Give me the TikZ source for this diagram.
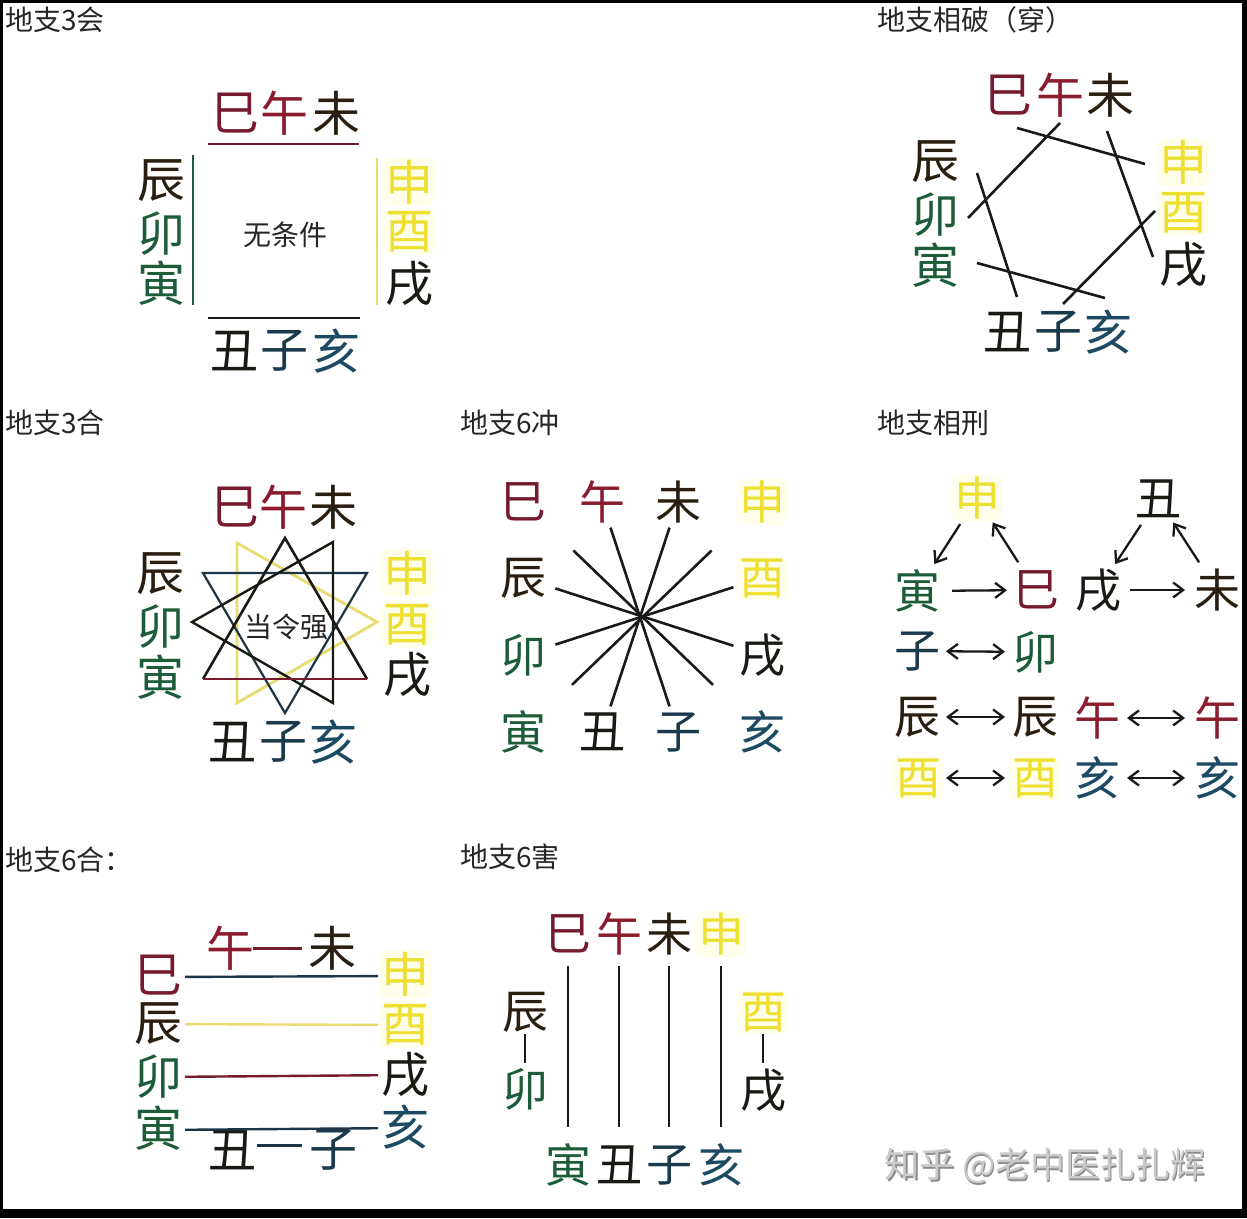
\documentclass[tikz,border=0pt]{standalone}
\usepackage{fontspec}
\newfontfamily\cjk{Noto Sans CJK SC}
\usetikzlibrary{arrows.meta}
\definecolor{cRed}{HTML}{761A2E}
\definecolor{cWu}{HTML}{8A1C2E}
\definecolor{cBrown}{HTML}{2A1E10}
\definecolor{cYel}{HTML}{EEE030}
\definecolor{cGreen}{HTML}{1D5C38}
\definecolor{cTeal}{HTML}{1C4A62}
\definecolor{cZi}{HTML}{1A3A4C}
\definecolor{cBlk}{HTML}{1A1A14}
\definecolor{cNavy}{HTML}{1E3444}
\definecolor{cLineY}{HTML}{E8DC70}
\definecolor{wm}{HTML}{CACACA}
\definecolor{wmS}{HTML}{8E8E8E}
\tikzset{
  ch/.style={inner sep=0pt, font=\cjk\fontsize{48}{48}\selectfont},
  chs/.style={inner sep=0pt, font=\cjk\fontsize{46}{46}\selectfont},
  mid/.style={inner sep=0pt, font=\cjk\fontsize{28}{28}\selectfont, text=black!85},
  ttl/.style={anchor=west, inner sep=0pt, font=\cjk\fontsize{28}{28}\selectfont, text=black!85},
  glow/.style={fill=yellow!8, rounded corners=8pt, inner sep=2pt},
  bSi/.style={text=cRed}, bWu/.style={text=cWu}, bWei/.style={text=cBrown},
  bShen/.style={text=cYel, glow}, bYou/.style={text=cYel, glow}, bXu/.style={text=cBlk},
  bHai/.style={text=cTeal}, bZi/.style={text=cZi}, bChou/.style={text=cBlk},
  bChen/.style={text=cBrown}, bMao/.style={text=cGreen}, bYin/.style={text=cGreen},
  ln/.style={line width=2.6pt, draw=black!90},
  arr/.style={line width=2.3pt, draw=black!90, -{Straight Barb[length=10pt,width=15pt,line width=2.3pt]}},
  darr/.style={line width=2.3pt, draw=black!90, {Straight Barb[length=10pt,width=15pt,line width=2.3pt]}-{Straight Barb[length=10pt,width=15pt,line width=2.3pt]}},
}
\begin{document}
\begin{tikzpicture}[x=1pt,y=-1pt]
\useasboundingbox (0,0) rectangle (1247,1218);
\fill[black] (0,0) rectangle (1247,1218);
\fill[white] (3,3) rectangle (1242,1209);

% ---------- 地支3会 ----------
\node[ttl] (t1) at (5,20) {地支3会};
\node[ch,bSi] (a1) at (235,113) {巳};
\node[ch,bWu] (a2) at (284,113) {午};
\node[ch,bWei] (a3) at (336,113) {未};
\node[ch,bChen] (a4) at (161,181) {辰};
\node[ch,bMao] (a5) at (161,234) {卯};
\node[ch,bYin] (a6) at (161,283) {寅};
\node[ch,bShen] (a7) at (409,182) {申};
\node[ch,bYou] (a8) at (409,232) {酉};
\node[ch,bXu] (a9) at (409,284) {戌};
\node[ch,bChou] (a10) at (234,351) {丑};
\node[ch,bZi] (a11) at (284,351) {子};
\node[ch,bHai] (a12) at (336,351) {亥};
\node[mid] (a13) at (285,235) {无条件};
\coordinate (aT1) at (208,144); \coordinate (aT2) at (359,144);
\coordinate (aL1) at (193,155); \coordinate (aL2) at (193,305);
\coordinate (aR1) at (377,158); \coordinate (aR2) at (377,305);
\coordinate (aB1) at (208,318); \coordinate (aB2) at (360,318);
\draw[line width=2.4pt, cRed] (aT1) -- (aT2);
\draw[line width=2.4pt, cGreen] (aL1) -- (aL2);
\draw[line width=2.4pt, cLineY] (aR1) -- (aR2);
\draw[line width=2.4pt, cBlk] (aB1) -- (aB2);

% ---------- 地支相破（穿） ----------
\node[ttl] (t2) at (877,20) {地支相破（穿）};
\node[ch,bSi] (b1) at (1008,95) {巳};
\node[ch,bWu] (b2) at (1060,95) {午};
\node[ch,bWei] (b3) at (1110,95) {未};
\node[ch,bChen] (b4) at (935,162) {辰};
\node[ch,bMao] (b5) at (935,215) {卯};
\node[ch,bYin] (b6) at (935,265) {寅};
\node[ch,bShen] (b7) at (1183,162) {申};
\node[ch,bYou] (b8) at (1183,213) {酉};
\node[ch,bXu] (b9) at (1183,265) {戌};
\node[ch,bChou] (b10) at (1007,332) {丑};
\node[ch,bZi] (b11) at (1058,332) {子};
\node[ch,bHai] (b12) at (1108,332) {亥};
\coordinate (p1a) at (1060,123); \coordinate (p1b) at (968,218);
\coordinate (p2a) at (1017,128); \coordinate (p2b) at (1145,164);
\coordinate (p3a) at (1107,131); \coordinate (p3b) at (1153,257);
\coordinate (p4a) at (1155,211); \coordinate (p4b) at (1063,304);
\coordinate (p5a) at (1105,298); \coordinate (p5b) at (977,263);
\coordinate (p6a) at (977,173); \coordinate (p6b) at (1017,297);
\draw[ln] (p1a) -- (p1b);
\draw[ln] (p2a) -- (p2b);
\draw[ln] (p3a) -- (p3b);
\draw[ln] (p4a) -- (p4b);
\draw[ln] (p5a) -- (p5b);
\draw[ln] (p6a) -- (p6b);

% ---------- 地支3合 ----------
\node[ttl] (t3) at (5,423) {地支3合};
\coordinate (y1) at (377,622); \coordinate (y2) at (237,543); \coordinate (y3) at (237,703);
\coordinate (n1) at (203,573); \coordinate (n2) at (367,573); \coordinate (n3) at (285,713);
\coordinate (k1) at (192,622); \coordinate (k2) at (333,542); \coordinate (k3) at (333,703);
\coordinate (u1) at (285,538); \coordinate (u2) at (367,679); \coordinate (u3) at (203,679);
\draw[line width=2.8pt, cLineY, line join=miter] (y1) -- (y2) -- (y3) -- cycle;
\draw[line width=2.2pt, cNavy] (n1) -- (n2) -- (n3) -- cycle;
\draw[line width=2.4pt, cBlk] (k1) -- (k2) -- (k3) -- cycle;
\draw[line width=2.6pt, cBlk] (u3) -- (u1) -- (u2);
\draw[line width=2.6pt, cRed] (u2) -- (u3);
\node[ch,bSi] (c1) at (235,507) {巳};
\node[ch,bWu] (c2) at (283,507) {午};
\node[ch,bWei] (c3) at (333,507) {未};
\node[ch,bChen] (c4) at (160,574) {辰};
\node[ch,bMao] (c5) at (160,627) {卯};
\node[ch,bYin] (c6) at (160,677) {寅};
\node[ch,bShen] (c7) at (407,573) {申};
\node[ch,bYou] (c8) at (407,625) {酉};
\node[ch,bXu] (c9) at (407,675) {戌};
\node[ch,bChou] (c10) at (232,742) {丑};
\node[ch,bZi] (c11) at (283,742) {子};
\node[ch,bHai] (c12) at (333,742) {亥};
\node[mid] (c13) at (286,627) {当令强};

% ---------- 地支6冲 ----------
\node[ttl] (t4) at (460,423) {地支6冲};
\node[chs,bSi] (d1) at (523,502) {巳};
\node[chs,bWu] (d2) at (602,502) {午};
\node[chs,bWei] (d3) at (678,502) {未};
\node[chs,bShen] (d4) at (762,502) {申};
\node[chs,bChen] (d5) at (523,578) {辰};
\node[chs,bYou] (d6) at (762,578) {酉};
\node[chs,bMao] (d7) at (523,655) {卯};
\node[chs,bXu] (d8) at (762,655) {戌};
\node[chs,bYin] (d9) at (523,732) {寅};
\node[chs,bChou] (d10) at (602,732) {丑};
\node[chs,bZi] (d11) at (678,732) {子};
\node[chs,bHai] (d12) at (762,732) {亥};
\draw[ln, shorten <=27pt, shorten >=27pt] (d2.center) -- (d11.center);
\draw[ln, shorten <=27pt, shorten >=27pt] (d3.center) -- (d10.center);
\draw[ln, shorten <=70pt, shorten >=68pt] (d1.center) -- (d12.center);
\draw[ln, shorten <=70pt, shorten >=68pt] (d4.center) -- (d9.center);
\draw[ln, shorten <=34pt, shorten >=30pt] (d5.center) -- (d8.center);
\draw[ln, shorten <=30pt, shorten >=34pt] (d6.center) -- (d7.center);

% ---------- 地支相刑 ----------
\node[ttl] (t5) at (877,423) {地支相刑};
\node[chs,bShen] (e1) at (977,498) {申};
\node[chs,bChou] (e2) at (1158,499) {丑};
\node[chs,bYin] (e3) at (917,591) {寅};
\node[chs,bSi] (e4) at (1036,590) {巳};
\node[chs,bXu] (e5) at (1098,590) {戌};
\node[chs,bWei] (e6) at (1217,590) {未};
\node[chs,bZi] (e7) at (917,651) {子};
\node[chs,bMao] (e8) at (1035,652) {卯};
\node[chs,bChen] (e9) at (917,717) {辰};
\node[chs,bChen] (e10) at (1035,717) {辰};
\node[chs,bWu] (e11) at (1097,718) {午};
\node[chs,bWu] (e12) at (1217,718) {午};
\node[chs,bYou] (e13) at (918,778) {酉};
\node[chs,bYou] (e14) at (1035,778) {酉};
\node[chs,bHai] (e15) at (1097,778) {亥};
\node[chs,bHai] (e16) at (1217,778) {亥};
\draw[arr, shorten <=31pt, shorten >=32pt] (e1.center) -- (e3.center);
\draw[arr, shorten <=33pt, shorten >=29pt] (e4.center) -- (e1.center);
\draw[arr, shorten <=31pt, shorten >=31pt] (e2.center) -- (e5.center);
\draw[arr, shorten <=33pt, shorten >=28pt] (e6.center) -- (e2.center);
\draw[arr, shorten <=35pt, shorten >=29pt] (e3.center) -- (e4.center);
\draw[arr, shorten <=32pt, shorten >=32pt] (e5.center) -- (e6.center);
\draw[darr, shorten <=29pt, shorten >=30pt] (e7.center) -- (e8.center);
\draw[darr, shorten <=29pt, shorten >=30pt] (e9.center) -- (e10.center);
\draw[darr, shorten <=30pt, shorten >=32pt] (e11.center) -- (e12.center);
\draw[darr, shorten <=28pt, shorten >=30pt] (e13.center) -- (e14.center);
\draw[darr, shorten <=30pt, shorten >=32pt] (e15.center) -- (e16.center);

% ---------- 地支6合 ----------
\node[ttl] (t6) at (5,860) {地支6合：};
\node[ch,bWu] (f1) at (230,948) {午};
\node[ch,bWei] (f2) at (332,948) {未};
\node[ch,bSi] (f3) at (158,975) {巳};
\node[ch,bChen] (f4) at (158,1024) {辰};
\node[ch,bMao] (f5) at (158,1077) {卯};
\node[ch,bYin] (f6) at (158,1128) {寅};
\node[ch,bShen] (f7) at (405,974) {申};
\node[ch,bYou] (f8) at (405,1025) {酉};
\node[ch,bXu] (f9) at (405,1075) {戌};
\node[ch,bHai] (f10) at (405,1127) {亥};
\node[ch,bChou] (f11) at (232,1150) {丑};
\node[ch,bZi] (f12) at (333,1150) {子};
\draw[line width=3pt, cRed, shorten <=23pt, shorten >=30pt] (f1.center) -- (f2.center);
\draw[line width=2.4pt, cNavy, shorten <=27pt, shorten >=27pt] ([yshift=-2pt]f3.center) -- ([yshift=-2pt]f7.center);
\draw[line width=2.4pt, cLineY, shorten <=27pt, shorten >=27pt] (f4.center) -- (f8.center);
\draw[line width=2.4pt, cRed, shorten <=27pt, shorten >=27pt] (f5.center) -- (f9.center);
\draw[line width=2.4pt, cNavy, shorten <=27pt, shorten >=27pt] ([yshift=-2pt]f6.center) -- ([yshift=-1pt]f10.center);
\draw[line width=3pt, cNavy, shorten <=25pt, shorten >=31pt] ([yshift=5pt]f11.center) -- ([yshift=5pt]f12.center);

% ---------- 地支6害 ----------
\node[ttl] (t7) at (460,857) {地支6害};
\node[chs,bSi] (g1) at (568,934) {巳};
\node[chs,bWu] (g2) at (619,934) {午};
\node[chs,bWei] (g3) at (669,934) {未};
\node[chs,bShen] (g4) at (721,934) {申};
\node[chs,bChen] (g5) at (525,1012) {辰};
\node[chs,bMao] (g6) at (525,1089) {卯};
\node[chs,bYou] (g7) at (763,1012) {酉};
\node[chs,bXu] (g8) at (763,1090) {戌};
\node[chs,bYin] (g9) at (568,1165) {寅};
\node[chs,bChou] (g10) at (619,1165) {丑};
\node[chs,bZi] (g11) at (669,1165) {子};
\node[chs,bHai] (g12) at (721,1165) {亥};
\draw[ln, shorten <=32pt, shorten >=38pt] (g1.center) -- (g9.center);
\draw[ln, shorten <=32pt, shorten >=38pt] (g2.center) -- (g10.center);
\draw[ln, shorten <=32pt, shorten >=38pt] (g3.center) -- (g11.center);
\draw[ln, shorten <=32pt, shorten >=38pt] (g4.center) -- (g12.center);
\draw[ln, shorten <=22pt, shorten >=26pt] (g5.center) -- (g6.center);
\draw[ln, shorten <=22pt, shorten >=27pt] (g7.center) -- (g8.center);

% ---------- watermark ----------
\node[inner sep=0pt, font=\cjk\fontsize{35}{35}\selectfont, text=wmS] (w0) at (1046.5,1167.5) {知乎 @老中医扎扎辉};
\node[inner sep=0pt, font=\cjk\fontsize{35}{35}\selectfont, text=wm] (w1) at (1045,1166) {知乎 @老中医扎扎辉};
\end{tikzpicture}
\end{document}
